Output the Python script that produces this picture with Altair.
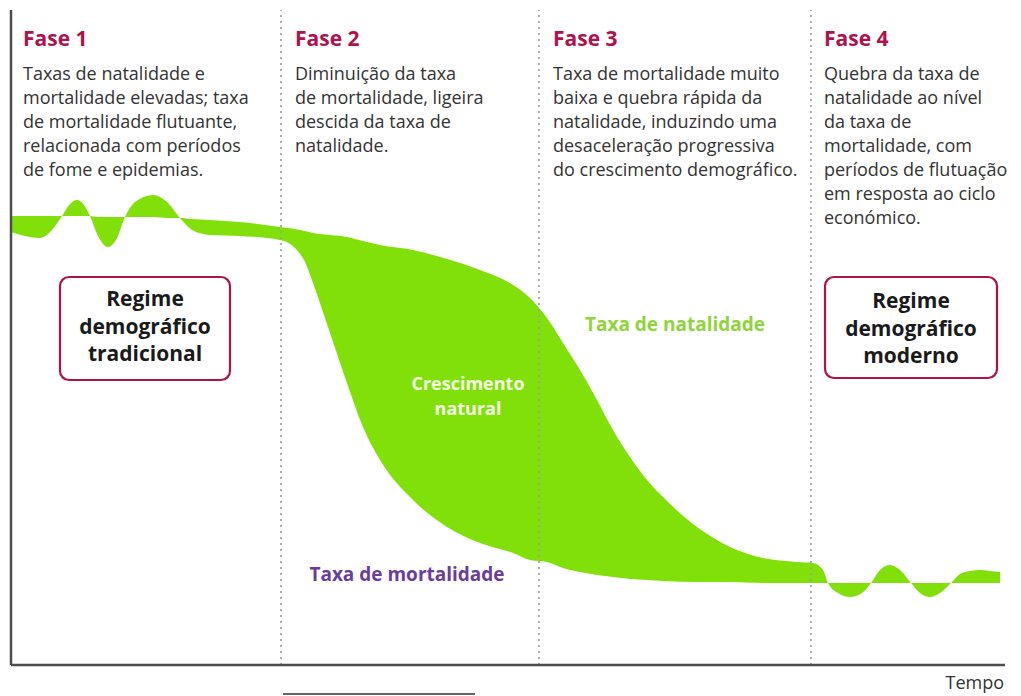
import altair as alt
import pandas as pd

# ---- data ----
tempo = [0, 1.4, 2.9, 4.1, 5.1, 5.9, 6.6, 7.3, 7.9, 8.7, 9.7, 10.6, 11.4, 12.4, 14.2, 15.7,
         16.9, 18.1, 19.9, 22.9, 26.9, 28.4, 29.4, 30.2, 31.9, 33.6, 35.2, 36.9, 40.2, 43.6,
         46.9, 50.2, 51.9, 53.6, 55.2, 56.9, 58.6, 60.2, 61.9, 63.6, 65.2, 68.6, 71.9, 75.2,
         78.6, 80.2, 81.2, 81.7, 82.7, 83.9, 85.1, 86.0, 86.9, 87.9, 88.9, 90.0, 90.9, 91.9,
         92.9, 94.0, 94.9, 95.9, 96.9, 97.9, 98.9]
natalidade = [44.9, 44.9, 44.9, 44.9, 44.9, 44.9, 44.9, 44.9, 44.9, 44.8, 44.8, 44.8, 44.8, 44.8, 44.8, 44.7,
              44.7, 44.6, 44.5, 44.3, 43.8, 43.6, 43.4, 43.2, 43.0, 42.8, 42.4, 42.0, 41.5, 40.6,
              39.5, 38.0, 36.7, 34.7, 32.2, 29.5, 26.5, 23.5, 20.8, 18.5, 16.8, 13.8, 11.8, 10.7,
              10.3, 10.2, 9.5, 8.2, 7.2, 6.8, 7.2, 8.2, 9.5, 10.0, 9.5, 8.2, 7.2, 6.8,
              7.2, 8.2, 9.1, 9.4, 9.5, 9.4, 9.3]
mortalidade = [43.3, 42.9, 42.7, 43.5, 44.9, 46.1, 46.5, 46.0, 44.9, 42.9, 41.8, 42.7, 44.8, 46.3, 47.0, 46.2,
               44.7, 43.5, 43.0, 42.9, 42.5, 41.7, 40.3, 38.2, 33.2, 28.2, 23.8, 20.5, 16.5, 13.8,
               12.2, 11.2, 10.5, 10.3, 9.7, 9.3, 9.0, 8.8, 8.6, 8.5, 8.4, 8.3, 8.3, 8.2,
               8.2, 8.2, 8.2, 8.2, 8.2, 8.2, 8.2, 8.2, 8.2, 8.2, 8.2, 8.2, 8.2, 8.2,
               8.2, 8.2, 8.2, 8.2, 8.2, 8.2, 8.2]

fases = ["Fase 1", "Fase 2", "Fase 3", "Fase 4"]
fase_x = [1.2, 28.4, 54.2, 81.3]
divisorias = [27.0, 52.8, 80.0]
descricoes = [
    "Taxas de natalidade e\nmortalidade elevadas; taxa\nde mortalidade flutuante,\nrelacionada com períodos\nde fome e epidemias.",
    "Diminuição da taxa\nde mortalidade, ligeira\ndescida da taxa de\nnatalidade.",
    "Taxa de mortalidade muito\nbaixa e quebra rápida da\nnatalidade, induzindo uma\ndesaceleração progressiva\ndo crescimento demográfico.",
    "Quebra da taxa de\nnatalidade ao  nível\nda taxa de\nmortalidade, com\nperíodos de flutuação\nem resposta ao ciclo\neconómico.",
]
regimes = ["Regime\ndemográfico\ntradicional", "Regime\ndemográfico\nmoderno"]
regime_x1 = [4.9, 81.4]
regime_x2 = [21.9, 98.6]
regime_y1 = [38.8, 38.8]
regime_y2 = [28.5, 28.7]

GREEN = "#82e00a"
CRIMSON = "#b0124a"
TEXT = "#333333"
FONT = "Open Sans"

xs = alt.Scale(domain=[0, 99.4], nice=False, zero=False)
ys = alt.Scale(domain=[0, 65.5], nice=False, zero=False)


def X(f):
    return alt.X(f, scale=xs, axis=None)


def Y(f):
    return alt.Y(f, scale=ys, axis=None)


curves = pd.DataFrame({"tempo": tempo, "natalidade": natalidade, "mortalidade": mortalidade})

area = alt.Chart(curves).mark_area(interpolate="monotone", color=GREEN, opacity=1).encode(
    x=X("tempo:Q"), y=Y("natalidade:Q"), y2="mortalidade:Q")

# axes as rules
yaxis = alt.Chart(pd.DataFrame({"x": [0], "y0": [0], "y1": [65.5]})).mark_rule(
    color="#4d4d4d", strokeWidth=2.5).encode(x=X("x:Q"), y=Y("y0:Q"), y2="y1:Q")
xaxis = alt.Chart(pd.DataFrame({"x0": [0], "x1": [99.4], "y": [0]})).mark_rule(
    color="#4d4d4d", strokeWidth=2.5).encode(x=X("x0:Q"), x2="x1:Q", y=Y("y:Q"))

div_df = pd.DataFrame({"x": divisorias, "y0": [0] * 3, "y1": [65.5] * 3})
divs = alt.Chart(div_df).mark_rule(color="#9a9aa8", strokeDash=[2, 4], strokeWidth=1.6).encode(
    x=X("x:Q"), y=Y("y0:Q"), y2="y1:Q")

fase_df = pd.DataFrame({"t": fases, "x": fase_x, "y": [61.9] * 4})
fase_txt = alt.Chart(fase_df).mark_text(align="left", baseline="alphabetic", font=FONT,
                                        fontSize=21, fontWeight="bold", color=CRIMSON).encode(
    x=X("x:Q"), y=Y("y:Q"), text="t:N")

desc_df = pd.DataFrame({"t": descricoes, "x": fase_x, "y": [59.9] * 4})
desc_txt = alt.Chart(desc_df).mark_text(align="left", baseline="top", font=FONT,
                                        fontSize=18, lineHeight=24, lineBreak="\n",
                                        color=TEXT).encode(
    x=X("x:Q"), y=Y("y:Q"), text="t:N")

box_df = pd.DataFrame({"x1": regime_x1, "x2": regime_x2, "y1": regime_y1, "y2": regime_y2})
boxes = alt.Chart(box_df).mark_rect(fill="white", stroke=CRIMSON, strokeWidth=2.2,
                                    cornerRadius=9).encode(
    x=X("x1:Q"), x2="x2:Q", y=Y("y1:Q"), y2="y2:Q")

reg_df = pd.DataFrame({"t": regimes, "x": [13.4, 90.0], "y": [36.5, 36.3]})
reg_txt = alt.Chart(reg_df).mark_text(align="center", baseline="middle", font=FONT,
                                      fontSize=21, fontWeight="bold", lineHeight=27.5,
                                      lineBreak="\n", color="#1a1a1a").encode(
    x=X("x:Q"), y=Y("y:Q"), text="t:N")

lab_nat = alt.Chart(pd.DataFrame({"t": ["Taxa de natalidade"], "x": [66.4], "y": [34.0]})).mark_text(
    align="center", baseline="middle", font=FONT, fontSize=19, fontWeight="bold",
    color="#8fd43a").encode(x=X("x:Q"), y=Y("y:Q"), text="t:N")

lab_cres = alt.Chart(pd.DataFrame({"t": ["Crescimento\nnatural"], "x": [45.7], "y": [28.0]})).mark_text(
    align="center", baseline="middle", font=FONT, fontSize=18, fontWeight="bold",
    lineHeight=25, lineBreak="\n", color="#f4ffe6").encode(x=X("x:Q"), y=Y("y:Q"), text="t:N")

lab_mort = alt.Chart(pd.DataFrame({"t": ["Taxa de mortalidade"], "x": [39.6], "y": [9.0]})).mark_text(
    align="center", baseline="middle", font=FONT, fontSize=19, fontWeight="bold",
    color="#6a3d9a").encode(x=X("x:Q"), y=Y("y:Q"), text="t:N")

lab_tempo = alt.Chart(pd.DataFrame({"t": ["Tempo"], "x": [99.3], "y": [-1.9]})).mark_text(
    align="right", baseline="middle", font=FONT, fontSize=18, color=TEXT).encode(
    x=X("x:Q"), y=Y("y:Q"), text="t:N")

short_line = alt.Chart(pd.DataFrame({"x1": [27.2], "x2": [46.4], "y": [-2.9]})).mark_rule(
    color="#333333", strokeWidth=1.5).encode(x=X("x1:Q"), x2="x2:Q", y=Y("y:Q"))

chart = alt.layer(
    area, divs, yaxis, xaxis, fase_txt, desc_txt, boxes, reg_txt, lab_nat, lab_cres, lab_mort,
    lab_tempo, short_line
).properties(
    width=994, height=655,
    autosize=alt.AutoSizeParams(type="none"),
    padding={"left": 3, "top": 2, "right": 4, "bottom": 36},
).configure_view(stroke=None)

chart.save("out.html", embed_options={"renderer": "svg", "actions": False})
